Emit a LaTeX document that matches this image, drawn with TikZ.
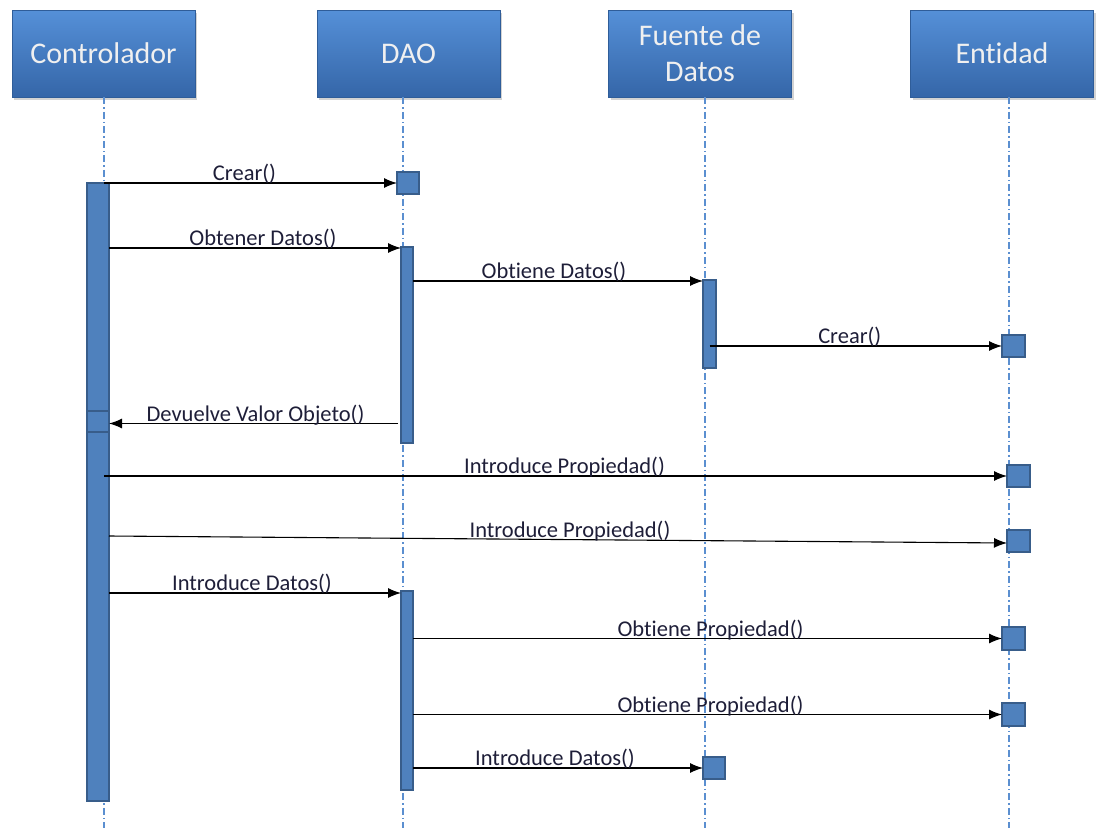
\documentclass[tikz,border=0pt]{standalone}
\usepackage{fontspec}
\setmainfont{Carlito}[Ligatures=NoCommon]
\usetikzlibrary{shadows,arrows.meta}

\definecolor{headtop}{HTML}{5590D8}
\definecolor{headbot}{HTML}{3566A8}
\definecolor{headedge}{HTML}{2F5D99}
\definecolor{actfill}{HTML}{4F81BD}
\definecolor{actedge}{HTML}{385D8A}
\definecolor{lifecol}{HTML}{5B8FD0}
\definecolor{labcol}{HTML}{1E1E38}

\tikzset{
  head/.style={rectangle, minimum width=183pt, minimum height=87pt, inner sep=0pt,
    top color=headtop, bottom color=headbot, draw=headedge, line width=0.6pt,
    text=white!94!black, align=center,
    font=\fontsize{30}{36}\selectfont,
    drop shadow={shadow xshift=2pt, shadow yshift=-3pt, opacity=0.35}},
  lifeline/.style={draw=lifecol, line width=1.2pt,
    dash pattern=on 7pt off 3pt on 1.5pt off 3pt},
  act/.style={rectangle, fill=actfill, draw=actedge, line width=1.6pt,
    inner sep=0pt, outer sep=0pt, anchor=north west},
  msg/.style={draw=black, line width=1.1pt, -{Latex[length=13pt,width=10pt]}},
  lab/.style={text=labcol, font=\fontsize{22.5}{24}\selectfont, anchor=base,
    inner sep=0pt, yshift=2.5pt}
}

\begin{document}
\begin{tikzpicture}[x=1pt,y=-1pt]
\useasboundingbox (0,0) rectangle (1096,828);

% participants
\node[head] (ctl) at (103.5,53.5) {Controlador};
\node[head] (dao) at (408.5,53.5) {DAO};
\node[head] (fds) at (700,53.5) {Fuente de\\Datos};
\node[head] (ent) at (1002,53.5) {Entidad};

% lifelines
\coordinate (lc) at (104,828);
\coordinate (ld) at (403,828);
\coordinate (lf) at (705,828);
\coordinate (le) at (1009,828);
\draw[lifeline] (ctl.south -| lc) -- (lc);
\draw[lifeline] (dao.south -| ld) -- (ld);
\draw[lifeline] (fds.south -| lf) -- (lf);
\draw[lifeline] (ent.south -| le) -- (le);

% activations
\node[act, minimum width=22pt, minimum height=618pt] (cbar) at (87,183) {};
\node[act, minimum width=22pt, minimum height=21pt] (cseg) at (87,411) {};
\node[act, minimum width=22pt, minimum height=22pt] (dbox) at (397,172) {};
\node[act, minimum width=12pt, minimum height=196pt] (dbar1) at (401,247) {};
\node[act, minimum width=13pt, minimum height=88pt] (fbar) at (703,280) {};
\node[act, minimum width=23pt, minimum height=22pt] (e1) at (1002,335) {};
\node[act, minimum width=23pt, minimum height=22pt] (e2) at (1007,465) {};
\node[act, minimum width=23pt, minimum height=22pt] (e3) at (1007,530) {};
\node[act, minimum width=23pt, minimum height=23pt] (e4) at (1002,627) {};
\node[act, minimum width=23pt, minimum height=23pt] (e5) at (1002,703) {};
\node[act, minimum width=12pt, minimum height=199pt] (dbar2) at (401,591) {};
\node[act, minimum width=22pt, minimum height=22pt] (fbox) at (703,757) {};

% messages
\draw[msg] (cbar.north -| lc) -- node[lab, xshift=-6pt] {Crear()} (dbox.west);
\draw[msg] ([yshift=-1pt]cbar.east |- dbar1.north) -- node[lab, xshift=8pt] {Obtener Datos()} ([yshift=-1pt]dbar1.north west);
\draw[msg] ([yshift=-1pt]dbar1.east |- fbar.north) -- node[lab, xshift=-4pt] {Obtiene Datos()} ([yshift=-1pt]fbar.north west);
\draw[msg] (fbar.center |- e1.west) -- node[lab, xshift=-6pt] {Crear()} (e1.west);
\draw[msg] ([xshift=-3pt,yshift=-2pt]dbar1.west |- cseg.east) -- node[lab, xshift=2pt] {Devuelve Valor Objeto()} ([yshift=-2pt]cseg.east);
\draw[msg] (lc |- e2.west) -- node[lab, xshift=9pt] {Introduce Propiedad()} (e2.west);
\draw[msg] ([yshift=5pt]cbar.east |- e3.west) -- node[lab, xshift=12pt] {Introduce Propiedad()} ([yshift=-2pt]e3.west);
\draw[msg] ([yshift=-2pt]cbar.east |- dbar2.north) -- node[lab, xshift=-3pt] {Introduce Datos()} ([yshift=-2pt]dbar2.north west);
\draw[msg] (dbar2.east |- e4.west) -- node[lab, xshift=3pt] {Obtiene Propiedad()} (e4.west);
\draw[msg] (dbar2.east |- e5.west) -- node[lab, xshift=3pt] {Obtiene Propiedad()} (e5.west);
\draw[msg] (dbar2.east |- fbox.west) -- node[lab, xshift=-3pt] {Introduce Datos()} (fbox.west);
\end{tikzpicture}
\end{document}
